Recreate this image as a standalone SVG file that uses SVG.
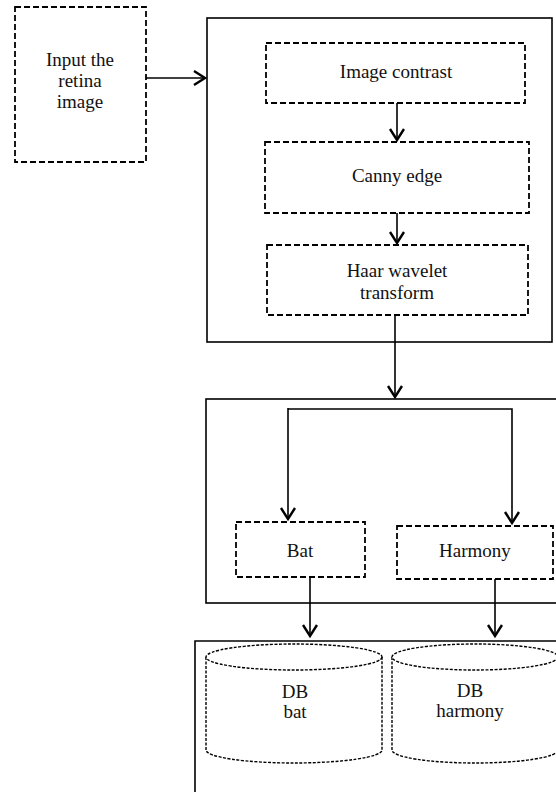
<svg xmlns="http://www.w3.org/2000/svg" width="556" height="792" viewBox="0 0 556 792">
<style>
.solid{fill:none;stroke:#000;stroke-width:1.6}
.dash{fill:#fff;stroke:#000;stroke-width:1.8;stroke-dasharray:6,3}
.dot{fill:#fff;stroke:#000;stroke-width:1.4;stroke-dasharray:3,1.5}
.conn{fill:none;stroke:#000;stroke-width:1.6}
text{font-family:"Liberation Serif","Times New Roman",serif;font-size:19px;fill:#111;text-anchor:middle}
</style>
<defs>
<marker id="arr" markerWidth="16" markerHeight="18" refX="12" refY="8" orient="auto" markerUnits="userSpaceOnUse">
<polyline points="1,1 12,8 1,15" fill="none" stroke="#000" stroke-width="2.4"/>
</marker>
</defs>
<rect width="556" height="792" fill="#fff"/>
<g id="box-main"><rect class="solid" x="207" y="18" width="345" height="324"/></g>
<g id="box-opt"><rect class="solid" x="206" y="399" width="352" height="204"/></g>
<g id="box-db"><path class="solid" d="M195,792 V641 H558"/></g>
<g id="input"><rect class="dash" x="15" y="7" width="131" height="155"/>
<text x="80" y="66">Input the</text><text x="80" y="87">retina</text><text x="80" y="108">image</text></g>
<g id="contrast"><rect class="dash" x="266" y="43" width="259" height="60"/><text x="396" y="78">Image contrast</text></g>
<g id="canny"><rect class="dash" x="265" y="142" width="264" height="71"/><text x="397" y="182">Canny edge</text></g>
<g id="haar"><rect class="dash" x="267" y="245" width="261" height="70"/><text x="397" y="277">Haar wavelet</text><text x="397" y="299">transform</text></g>
<g id="bat"><rect class="dash" x="236" y="522" width="129" height="55"/><text x="300" y="557">Bat</text></g>
<g id="harmony"><rect class="dash" x="397" y="526" width="156" height="53"/><text x="475" y="557">Harmony</text></g>
<g id="db-bat"><path class="dot" d="M206,657 V750 A88,13 0 0 0 382,750 V657"/><ellipse class="dot" cx="294" cy="657" rx="88" ry="13"/>
<text x="295" y="698">DB</text><text x="295" y="718">bat</text></g>
<g id="db-harmony"><path class="dot" d="M392,657 V750 A83,13 0 0 0 558,750 V657"/><ellipse class="dot" cx="475" cy="657" rx="83" ry="13"/>
<text x="470" y="697">DB</text><text x="470" y="717">harmony</text></g>
<g id="connectors">
<line class="conn" x1="146" y1="78" x2="205" y2="78" marker-end="url(#arr)"/>
<line class="conn" x1="397" y1="103" x2="397" y2="140" marker-end="url(#arr)"/>
<line class="conn" x1="397" y1="213" x2="397" y2="243" marker-end="url(#arr)"/>
<line class="conn" x1="395" y1="315" x2="395" y2="397" marker-end="url(#arr)"/>
<polyline class="conn" points="288,409 512,409 512,523" marker-end="url(#arr)"/>
<line class="conn" x1="288" y1="408" x2="288" y2="519" marker-end="url(#arr)"/>
<line class="conn" x1="310" y1="577" x2="310" y2="636" marker-end="url(#arr)"/>
<line class="conn" x1="495" y1="579" x2="495" y2="636" marker-end="url(#arr)"/>
</g>
</svg>
